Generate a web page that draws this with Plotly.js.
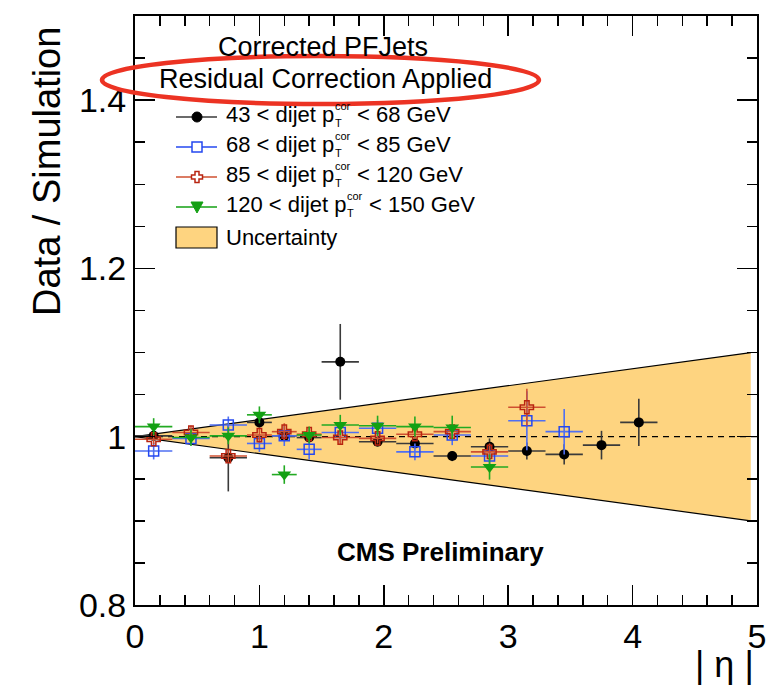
<!DOCTYPE html>
<html><head><meta charset="utf-8">
<script src="https://cdn.plot.ly/plotly-3.0.1.min.js"></script>
<style>body{margin:0;background:#fff}#chart{width:783px;height:686px}</style>
</head><body><div id="chart"></div>
<script>
// ---- data ----
const etaEdges = [0, 0.3, 0.6, 0.9, 1.1, 1.3, 1.5, 1.8, 2.1, 2.4, 2.7, 3.0, 3.3, 3.6, 3.9, 4.2];
const ptLow = ['43', '68', '85', '120'];
const ptHigh = ['68', '85', '120', '150'];
const valBlack = [1.001, null, 0.975, 1.017, 1.001, 0.999, 1.089, 0.994, 0.992, 0.977, 0.988, 0.983, 0.979, 0.990, 1.017];
const errBlack = [0.004, null, 0.040, 0.006, 0.005, 0.004, 0.045, 0.004, 0.005, 0.006, 0.010, 0.010, 0.012, 0.017, 0.028];
const valBlue = [0.983, 0.998, 1.014, 0.992, 1.001, 0.985, 1.005, 1.010, 0.982, 1.002, 0.977, 1.019, 1.006];
const errBlue = [0.010, 0.008, 0.010, 0.010, 0.012, 0.012, 0.012, 0.010, 0.010, 0.012, 0.012, 0.035, 0.027];
const valRed = [0.997, 1.005, 0.977, 1.002, 1.006, 1.003, 0.999, 0.998, 1.003, 1.006, 0.982, 1.035];
const errRed = [0.006, 0.008, 0.008, 0.008, 0.010, 0.008, 0.008, 0.006, 0.006, 0.008, 0.010, 0.022];
const valGreen = [1.012, 0.999, 1.001, 1.026, 0.955, 1.002, 1.014, 1.013, 1.012, 1.011, 0.964];
const errGreen = [0.010, 0.010, 0.010, 0.010, 0.011, 0.010, 0.012, 0.012, 0.012, 0.014, 0.015];
const bandEta = [0, 4.95];
const bandUp = [1.0, 1.1];
const bandDown = [1.0, 0.9];
const refEta = [0, 5];
const refVal = [1, 1];
const yTickVals = [0.8, 1, 1.2, 1.4];
const yTickText = ['0.8', '1', '1.2', '1.4'];
const xTickVals = [0, 1, 2, 3, 4, 5];
const xTickText = ['0', '1', '2', '3', '4', '5'];

// bin centres / half widths from edges
const centers = etaEdges.slice(0, -1).map((e, i) => (e + etaEdges[i + 1]) / 2);
const halfW = etaEdges.slice(0, -1).map((e, i) => (etaEdges[i + 1] - e) / 2);

// ---- geometry helpers (pixel -> paper) ----
const W = 783, H = 686, L = 135, R = 757, T = 16, B = 605;
const px = x => (x - L) / (R - L);
const py = y => (B - y) / (B - T);
const FONT = '"Liberation Sans", Arial, Helvetica, sans-serif';
const cv = document.createElement('canvas').getContext('2d');
function tw(t, s, w) { cv.font = (w || 'normal') + ' ' + s + 'px "Liberation Sans"'; return cv.measureText(t).width; }

const COL = {
  black: '#000000', blackBar: '#3a3a3a',
  blue: '#2448f0', blueBar: '#4f6ff2',
  red: '#b82410', redBar: '#cf5030',
  green: '#13a013', greenBar: '#22aa22',
  band: '#fed480'
};

function series(vals, errs, marker, barCol) {
  const n = vals.length;
  return {
    type: 'scatter', mode: 'markers', showlegend: false, hoverinfo: 'skip',
    x: centers.slice(0, n), y: vals,
    error_x: { type: 'data', array: halfW.slice(0, n), color: barCol, thickness: 1.6, width: 0 },
    error_y: { type: 'data', array: errs, color: barCol, thickness: 1.6, width: 0 },
    marker: marker, cliponaxis: true
  };
}

const traces = [
  { type: 'scatter', mode: 'lines', x: bandEta.concat(bandEta.slice().reverse()), y: bandUp.concat(bandDown.slice().reverse()),
    fill: 'toself', fillcolor: COL.band, line: { width: 0 }, showlegend: false, hoverinfo: 'skip' },
  { type: 'scatter', mode: 'lines', x: bandEta, y: bandUp, line: { color: '#000', width: 1.2 }, showlegend: false, hoverinfo: 'skip' },
  { type: 'scatter', mode: 'lines', x: bandEta, y: bandDown, line: { color: '#000', width: 1.2 }, showlegend: false, hoverinfo: 'skip' },
  { type: 'scatter', mode: 'lines', x: refEta, y: refVal, line: { color: '#000', width: 1.3, dash: '6px,5px' }, showlegend: false, hoverinfo: 'skip' },
  series(valBlack, errBlack, { symbol: 'circle', size: 10, color: COL.black }, COL.blackBar),
  series(valBlue, errBlue, { symbol: 'square-open', size: 10, color: COL.blue, line: { width: 1.5, color: COL.blue } }, COL.blueBar),
  series(valRed, errRed, { symbol: 'cross-open', size: 11, color: COL.red, line: { width: 1.5, color: COL.red } }, COL.redBar),
  series(valGreen, errGreen, { symbol: 'triangle-down', size: 12, color: COL.green }, COL.greenBar)
];

// ---- legend (shapes + annotations) ----
const shapes = [];
const annotations = [];
const legRowText = [114, 144, 174, 204];
const legRowMark = [117, 147, 177, 207];
const legLine = [[COL.blackBar, COL.black], [COL.blue, COL.blue], [COL.redBar, COL.red], [COL.green, COL.green]];
function pathFrom(pts) { return 'M' + pts.map(p => px(p[0]) + ',' + py(p[1])).join('L') + 'Z'; }
for (let i = 0; i < 4; i++) {
  const ym = legRowMark[i], xc = 197;
  shapes.push({ type: 'line', xref: 'paper', yref: 'paper', x0: px(176), x1: px(217), y0: py(ym), y1: py(ym), line: { color: legLine[i][0], width: 1.6 } });
  if (i === 0) shapes.push({ type: 'circle', xref: 'paper', yref: 'paper', x0: px(xc - 5), x1: px(xc + 5), y0: py(ym + 5), y1: py(ym - 5), fillcolor: '#000', line: { color: '#000', width: 1 } });
  if (i === 1) shapes.push({ type: 'rect', xref: 'paper', yref: 'paper', x0: px(xc - 5), x1: px(xc + 5), y0: py(ym + 5), y1: py(ym - 5), fillcolor: '#fff', line: { color: COL.blue, width: 1.5 } });
  if (i === 2) { const a = 5.5, b = 2; shapes.push({ type: 'path', xref: 'paper', yref: 'paper', path: pathFrom([[xc - b, ym - a], [xc + b, ym - a], [xc + b, ym - b], [xc + a, ym - b], [xc + a, ym + b], [xc + b, ym + b], [xc + b, ym + a], [xc - b, ym + a], [xc - b, ym + b], [xc - a, ym + b], [xc - a, ym - b], [xc - b, ym - b]]), fillcolor: '#fff', line: { color: COL.red, width: 1.5 } }); }
  if (i === 3) shapes.push({ type: 'path', xref: 'paper', yref: 'paper', path: pathFrom([[xc - 6, ym - 5], [xc + 6, ym - 5], [xc, ym + 6]]), fillcolor: COL.green, line: { color: COL.green, width: 1 } });

  const fs = 22, yt = legRowText[i];
  const pre = ptLow[i] + ' < dijet p';
  const x0 = 225, pEnd = x0 + tw(pre, fs);
  annotations.push({ text: pre, x: px(x0), y: py(yt), xanchor: 'left', yanchor: 'middle', font: { size: fs }, borderpad: 0 });
  annotations.push({ text: 'cor', x: px(pEnd + 0.5), y: py(yt - 8.5), xanchor: 'left', yanchor: 'middle', font: { size: 11 }, borderpad: 0 });
  annotations.push({ text: 'T', x: px(pEnd + 0.5), y: py(yt + 9), xanchor: 'left', yanchor: 'middle', font: { size: 11 }, borderpad: 0 });
  annotations.push({ text: '< ' + ptHigh[i] + ' GeV', x: px(pEnd + tw('cor', 11) + 7), y: py(yt), xanchor: 'left', yanchor: 'middle', font: { size: fs }, borderpad: 0 });
}
shapes.push({ type: 'rect', xref: 'paper', yref: 'paper', x0: px(176), x1: px(217), y0: py(248), y1: py(227), fillcolor: COL.band, line: { color: '#000', width: 1.2 } });
annotations.push({ text: 'Uncertainty', x: px(225), y: py(237), xanchor: 'left', yanchor: 'middle', font: { size: 22 }, borderpad: 0 });

annotations.push({ text: 'Corrected PFJets', x: px(323), y: py(47), xanchor: 'center', yanchor: 'middle', font: { size: 27 }, borderpad: 0 });
annotations.push({ text: 'Residual Correction Applied', x: px(325), y: py(79), xanchor: 'center', yanchor: 'middle', font: { size: 27 }, borderpad: 0 });
shapes.push({ type: 'circle', xref: 'paper', yref: 'paper', layer: 'above', x0: px(102), x1: px(539), y0: py(104), y1: py(56), line: { color: '#ec3323', width: 4.5 } });

annotations.push({ text: '<b>CMS Preliminary</b>', x: px(440), y: py(552), xanchor: 'center', yanchor: 'middle', font: { size: 26 } });
annotations.push({ text: 'Data / Simulation', x: px(47), y: py(172), xanchor: 'center', yanchor: 'middle', textangle: -90, font: { size: 38 } });
annotations.push({ text: '| η |', x: px(756), y: py(664), xanchor: 'right', yanchor: 'middle', font: { size: 36 } });
annotations.forEach(a => { a.xref = 'paper'; a.yref = 'paper'; a.showarrow = false; a.font.family = FONT; a.font.color = '#000'; });

const axisCommon = {
  showline: true, linecolor: '#000', linewidth: 2, mirror: 'ticks', ticks: 'inside', ticklen: 20, tickwidth: 1.5, tickcolor: '#000',
  showgrid: false, zeroline: false, tickfont: { family: FONT, size: 34, color: '#000' }, tickmode: 'array', fixedrange: true
};
const layout = {
  width: W, height: H, margin: { l: L, r: W - R, t: T, b: H - B },
  paper_bgcolor: '#fff', plot_bgcolor: '#fff', showlegend: false,
  xaxis: Object.assign({}, axisCommon, { range: [0, 5], tickvals: xTickVals, ticktext: xTickText,
    minor: { tickmode: 'linear', tick0: 0, dtick: 0.2, ticks: 'inside', ticklen: 10, tickwidth: 1.5, tickcolor: '#000', showgrid: false } }),
  yaxis: Object.assign({}, axisCommon, { range: [0.8, 1.5], tickvals: yTickVals, ticktext: yTickText,
    minor: { tickmode: 'linear', tick0: 0.8, dtick: 0.05, ticks: 'inside', ticklen: 10, tickwidth: 1.5, tickcolor: '#000', showgrid: false } }),
  shapes: shapes, annotations: annotations
};
Plotly.newPlot('chart', traces, layout, { staticPlot: true, displayModeBar: false });
</script></body></html>
